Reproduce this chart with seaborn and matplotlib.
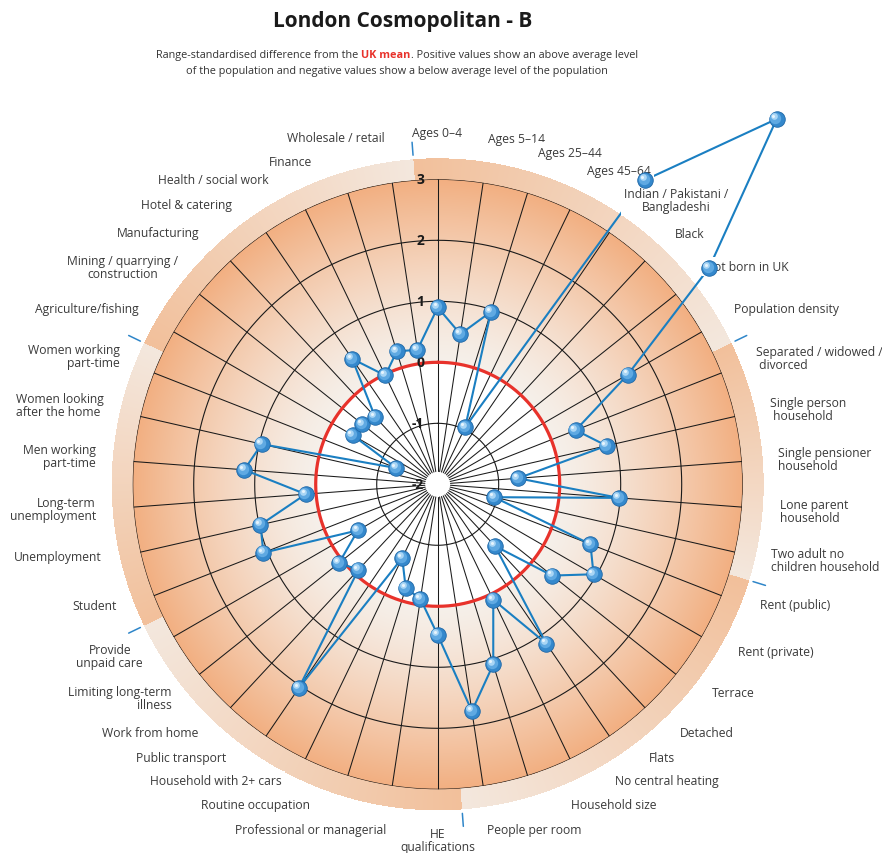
import numpy as np
import pandas as pd
import matplotlib
matplotlib.use("Agg")
import matplotlib.pyplot as plt
import seaborn as sns
from matplotlib.colors import to_rgb
from matplotlib.transforms import ScaledTranslation
from matplotlib import font_manager

# ---------------- data ----------------
variables = [
    "Ages 0–4", "Ages 5–14", "Ages 25–44", "Ages 45–64",
    "Indian / Pakistani /\nBangladeshi", "Black", "Not born in UK", "Population density",
    "Separated / widowed /\n divorced", "Single person\n household", "Single pensioner\nhousehold",
    "Lone parent\nhousehold", "Two adult no\nchildren household",
    "Rent (public)", "Rent (private)", "Terrace", "Detached", "Flats",
    "No central heating", "Household size", "People per room",
    "HE\nqualifications", "Professional or managerial", "Routine occupation",
    "Household with 2+ cars", "Public transport", "Work from home",
    "Limiting long-term\nillness", "Provide\nunpaid care",
    "Student", "Unemployment", "Long-term\nunemployment", "Men working\npart-time",
    "Women looking\nafter the home", "Women working\npart-time",
    "Agriculture/fishing", "Mining / quarrying /\nconstruction", "Manufacturing",
    "Hotel & catering", "Health / social work", "Finance", "Wholesale / retail",
]
values = [
    0.90, 0.49, 0.96, -0.96, 4.04, 6.17, 3.69, 1.60,
    0.43, 0.84, -0.68, 0.98, -1.05,
    0.69, 0.95, 0.40, -0.62, 1.16, 0.10, 1.09, 1.76,
    0.47, -0.10, -0.22, -0.66, 2.04, -0.09, 0.07, -0.49,
    1.07, 0.98, 0.17, 1.18, 0.96, -1.27,
    -0.39, -0.42, -0.49, 0.49, -0.02, 0.28, 0.23,
]
group_names = ["Demographic", "Household composition", "Housing",
               "Socio-economic", "Employment", "Industry"]
group_sizes = [8, 5, 8, 8, 6, 7]
radial_ticks = [-2, -1, 0, 1, 2, 3]
title = "London Cosmopolitan - B"
sub_a = "Range-standardised difference from the "
sub_b = "UK mean"
sub_c = ". Positive values show an above average level"
sub_line2 = "of the population and negative values show a below average level of the population"

# ---------------- layout (pixels) ----------------
W, H = 882, 854
CX, CY, R3 = 437.7, 485.3, 305.0        # centre and radius of the "3" ring
PX_PER_UNIT = R3 / 5.0
RING_OUT = 326.0

# label anchors: (x, y, ha, multialign)
label_layout = [
    (437.5, 134, "center", "center"), (488, 139, "left", "left"), (538, 153, "left", "left"),
    (587, 171, "left", "left"), (624, 200.5, "left", "center"), (675, 234, "left", "left"),
    (705, 267.7, "left", "left"), (734, 310, "left", "left"),
    (756, 359, "left", "left"), (770, 410, "left", "left"), (778, 460, "left", "left"),
    (780, 512, "left", "left"), (771, 560.7, "left", "left"),
    (760, 606, "left", "left"), (738, 653, "left", "left"), (712, 694, "left", "left"),
    (680, 734, "left", "left"), (649, 759, "left", "left"), (615, 782, "left", "left"),
    (571, 806, "left", "left"), (487, 831, "left", "left"),
    (438, 841.5, "center", "center"), (386, 831, "right", "right"), (310, 806, "right", "right"),
    (282, 782, "right", "right"), (226, 759, "right", "right"), (198, 734, "right", "right"),
    (172, 699, "right", "right"), (143, 657, "right", "center"),
    (117, 606.5, "right", "right"), (102, 557.7, "right", "right"), (96, 509.7, "right", "right"),
    (96, 457.5, "right", "right"), (104, 405.8, "right", "left"), (120, 356.7, "right", "right"),
    (139, 309, "right", "right"), (178, 268, "right", "center"), (199, 234, "right", "right"),
    (232, 206, "right", "right"), (269, 181, "right", "right"), (312, 162, "right", "right"),
    (385, 139, "right", "right"),
]

sns.set_theme(style="white")
plt.rcParams["font.family"] = ["Open Sans", "DejaVu Sans"]

installed = {f.name for f in font_manager.fontManager.ttflist}
if "Liberation Sans Narrow" in installed:
    title_kw = dict(family=["Liberation Sans Narrow", "DejaVu Sans"], fontsize=18.5)
else:
    title_kw = dict(family=["Open Sans", "DejaVu Sans"], fontsize=15)

fig = plt.figure(figsize=(W / 100, H / 100), dpi=100)

# ---------------- background: radial gradient disc + group ring ----------------
n = len(variables)
step = 360.0 / n
yy, xx = np.mgrid[0:H, 0:W] + 0.5
dx, dy = xx - CX, CY - yy
rp = np.hypot(dx, dy)
ang = np.degrees(np.arctan2(dx, dy)) % 360.0

img = np.ones((H, W, 4))
img[..., 3] = 0.0
c_in, c_out = np.array(to_rgb("#f6f0ea")), np.array(to_rgb("#f2af81"))
disc = (rp <= R3)
t = np.clip((rp - 2 * PX_PER_UNIT) / (3 * PX_PER_UNIT), 0, 1) ** 1.3
col = c_in[None, None, :] * (1 - t[..., None]) + c_out[None, None, :] * t[..., None]
inner = rp < 2 * PX_PER_UNIT
col[inner] = 1.0
img[disc, :3] = col[disc]
img[disc, 3] = 1.0

ring = (rp > R3) & (rp <= RING_OUT)
a0 = (ang + step / 2) % 360.0
ends = np.cumsum(group_sizes) * step
starts = ends - np.array(group_sizes) * step
gi = np.clip(np.searchsorted(ends, a0, side="right"), 0, len(group_sizes) - 1)
f = (a0 - starts[gi]) / (ends[gi] - starts[gi])
c_dark, c_light = np.array(to_rgb("#f2c09b")), np.array(to_rgb("#f4e8de"))
rcol = c_dark[None, None, :] * (1 - f[..., None]) + c_light[None, None, :] * f[..., None]
img[ring, :3] = rcol[ring]
img[ring, 3] = 1.0

bg = fig.add_axes([0, 0, 1, 1], zorder=-1)
bg.imshow(img, extent=[0, W, H, 0], interpolation="bilinear")
bg.set_xlim(0, W)
bg.set_ylim(H, 0)
bg.axis("off")

# ---------------- polar axes ----------------
ax = fig.add_axes([(CX - R3) / W, (H - CY - R3) / H, 2 * R3 / W, 2 * R3 / H],
                  projection="polar")
ax.set_theta_zero_location("N")
ax.set_theta_direction(-1)
ax.set_ylim(radial_ticks[0], radial_ticks[-1])
ax.axis("off")
ax.patch.set_alpha(0)

theta = np.deg2rad(np.arange(n) * step)
full = np.linspace(0, 2 * np.pi, 721)

# spokes
for th in theta:
    ax.plot([th, th], [-1.79, 3], color="#1a1a1a", lw=0.75, zorder=2)
# rings
for v in radial_ticks[1:]:
    if v == 0:
        ax.plot(full, np.full_like(full, v), color="#e8322b", lw=2.3, zorder=2.5)
    else:
        ax.plot(full, np.full_like(full, v), color="#1a1a1a", lw=0.8, zorder=2)

# group boundary ticks
r_tick0 = 330 / PX_PER_UNIT - 2
r_tick1 = 343 / PX_PER_UNIT - 2
for b in (ends - step / 2):
    bt = np.deg2rad(b)
    ax.plot([bt, bt], [r_tick0, r_tick1], color="#2f86c9", lw=1.1,
            clip_on=False, zorder=6)

# radial tick labels
off = ax.transData + ScaledTranslation(-13.5 / 100, 0, fig.dpi_scale_trans)
for v in radial_ticks:
    ax.text(0, v, str(v), transform=off, ha="right", va="center",
            fontsize=10, fontweight="bold", color="#1a1a1a", zorder=7)

# data line
df = pd.DataFrame({"theta": np.append(theta, 2 * np.pi),
                   "value": np.append(values, values[0])})
sns.lineplot(data=df, x="theta", y="value", ax=ax, sort=False, estimator=None,
             color="#1a7fc2", lw=1.5, zorder=3)
for ln in ax.lines[-1:]:
    ln.set_clip_on(False)

# markers (spheres)
pts = pd.DataFrame({"theta": theta, "value": values})
sns.scatterplot(data=pts, x="theta", y="value", ax=ax, s=125, color="#3488cc",
                edgecolor="#1f67a6", linewidth=0.6, zorder=8)
for coll in ax.collections:
    coll.set_clip_on(False)
for dxo, ms, c, z in [(0.9, 8.2, "#5fa9e2", 9), (1.9, 4.8, "#aad6f5", 10), (2.3, 2.2, "#e6f4fd", 11)]:
    tr = ax.transData + ScaledTranslation(-dxo / 72, dxo / 72, fig.dpi_scale_trans)
    ax.plot(theta, values, "o", ms=ms, mfc=c, mec="none", transform=tr,
            clip_on=False, zorder=z)
ax.set_xlabel("")
ax.set_ylabel("")
ax.set_ylim(radial_ticks[0], radial_ticks[-1])

# variable labels
for txt, (lx, ly, ha, ma) in zip(variables, label_layout):
    ax.text(lx / W, 1 - ly / H, txt, transform=fig.transFigure, ha=ha, va="center",
            multialignment=ma, fontsize=8.7, color="#3a3a3a", linespacing=1.0,
            zorder=5, clip_on=False,
            bbox=dict(boxstyle="square,pad=0.25", fc="white", ec="none"))

# ---------------- title & subtitle ----------------
fig.text(403 / W, 1 - 21 / H, title, ha="center", va="center",
         fontweight="bold", color="#1a1a1a", **title_kw)

renderer = fig.canvas.get_renderer()
sub_kw = dict(fontsize=7.8, color="#333333", va="baseline", ha="left")
pieces = [(sub_a, {}), (sub_b, dict(color="#e8322b", fontweight="bold")), (sub_c, {})]
widths = []
for s, extra in pieces:
    tt = fig.text(0, 0, s, **{**sub_kw, **extra})
    widths.append(tt.get_window_extent(renderer).width)
    tt.remove()
x = 397 - sum(widths) / 2
for (s, extra), wpx in zip(pieces, widths):
    fig.text(x / W, 1 - 58 / H, s, **{**sub_kw, **extra})
    x += wpx
fig.text(397 / W, 1 - 74 / H, sub_line2, ha="center", **{k: v for k, v in sub_kw.items() if k != "ha"})

fig.savefig("out.png", dpi=100)
